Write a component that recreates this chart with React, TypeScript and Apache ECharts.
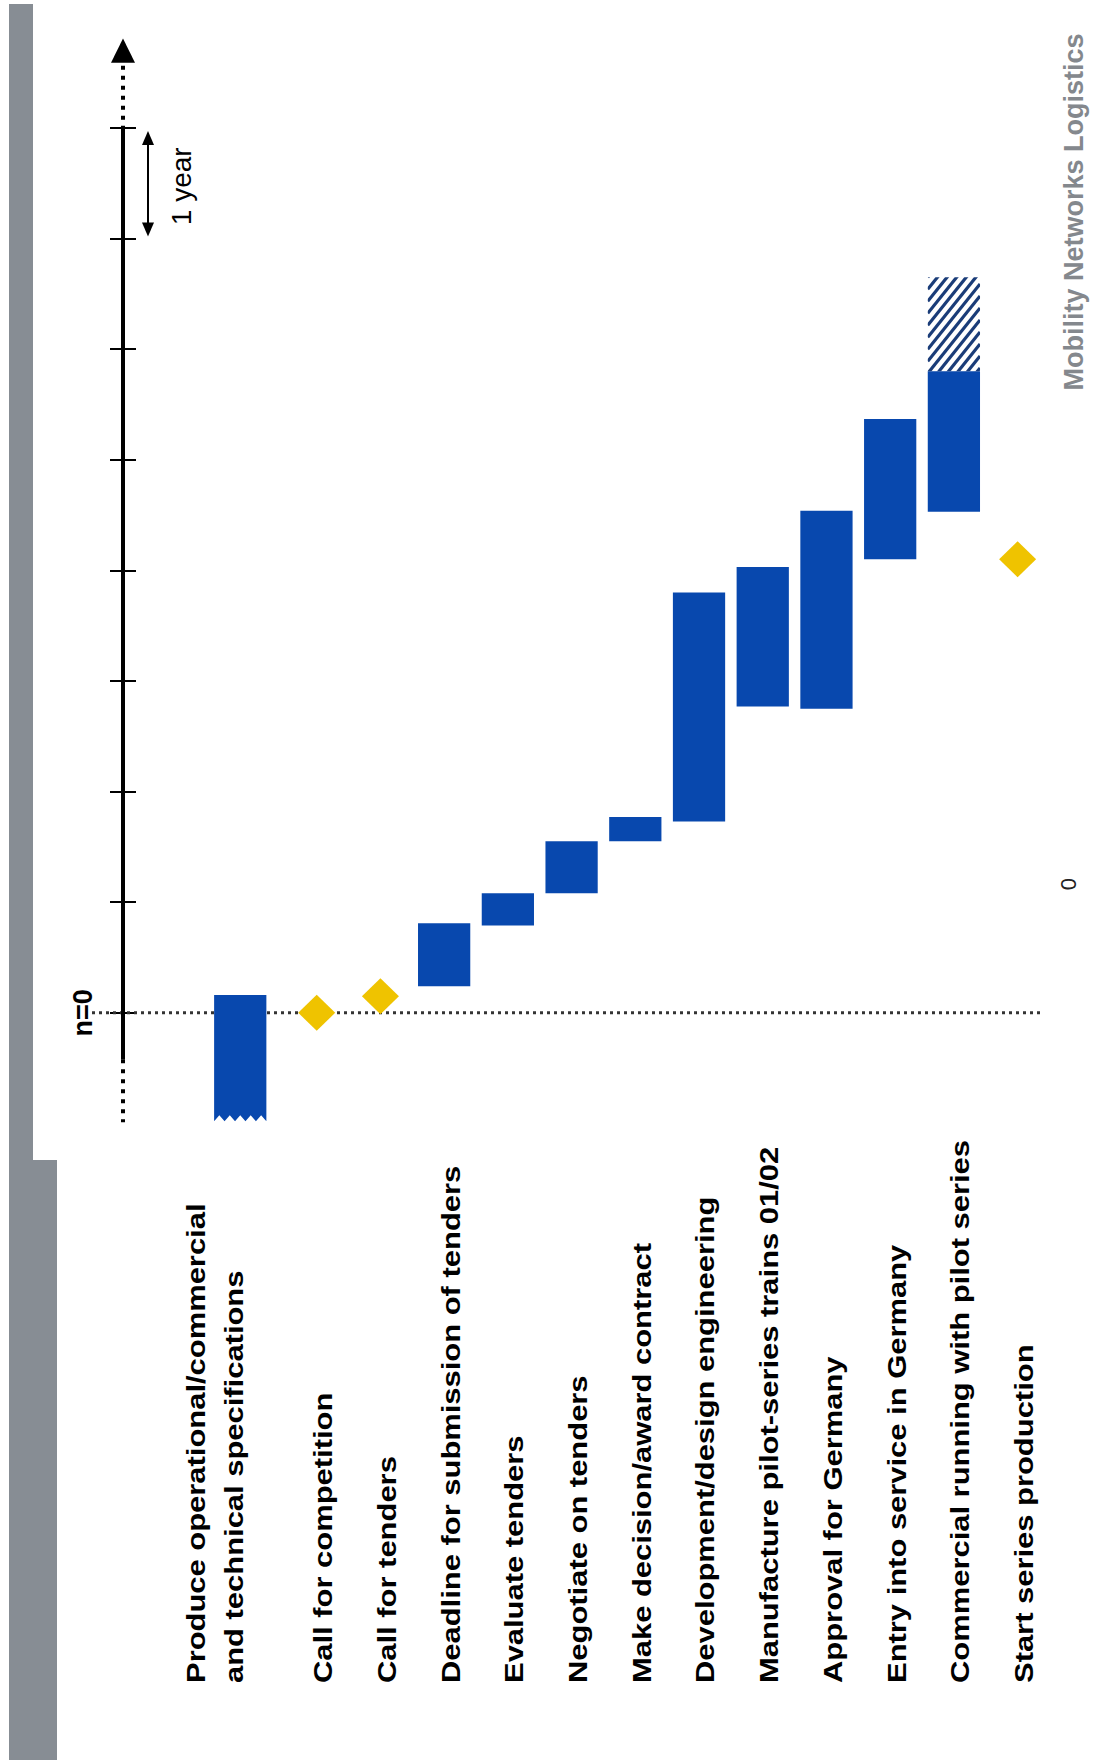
import React, { useEffect, useRef } from 'react';
import * as echarts from 'echarts';

// ---------- data (time in years, n = 0 at the call for competition) ----------
const taskLabels = [
  'Produce operational/commercial\nand technical specifications',
  'Call for competition',
  'Call for tenders',
  'Deadline for submission of tenders',
  'Evaluate tenders',
  'Negotiate on tenders',
  'Make decision/award contract',
  'Development/design engineering',
  'Manufacture pilot-series trains 01/02',
  'Approval for Germany',
  'Entry into service in Germany',
  'Commercial running with pilot series',
  'Start series production',
];
// row slot of each task's mark and of its label (row units)
const rowPos = [-0.2, 1, 2, 3, 4, 5, 6, 7, 8, 9, 10, 11, 12];
const labelPos = [-0.6, 1.1, 2.1, 3.1, 4.1, 5.1, 6.1, 7.1, 8.1, 9.1, 10.1, 11.1, 12.1];
const taskStart = [-0.98, null, null, 0.24, 0.79, 1.08, 1.55, 1.73, 2.77, 2.75, 4.1, 4.53, null];
const taskEnd = [0.16, null, null, 0.81, 1.08, 1.55, 1.77, 3.8, 4.03, 4.54, 5.37, 5.8, null];
const openStart = [true, false, false, false, false, false, false, false, false, false, false, false, false];
const extensionEnd = [null, null, null, null, null, null, null, null, null, null, null, 6.65, null];
const milestoneAt = [null, 0, 0.15, null, null, null, null, null, null, null, null, null, 4.1];
const yearTicks = [0, 1, 2, 3, 4, 5, 6, 7, 8];

// ---------- axis extents ----------
const X_MIN = -2.04;
const X_MAX = 13.34;
const Y_MIN = -6.06;
const Y_MAX = 9.04;

const FONT = '"Liberation Sans", Arial, sans-serif';
const BLUE = '#0848ae';
const GOLD = '#efc300';

export default function App() {
  const ref = useRef<HTMLDivElement>(null);

  useEffect(() => {
    if (!ref.current) return;
    const chart = echarts.init(ref.current, null, { renderer: 'svg' });

    const barData = rowPos
      .map((p, i) => (taskStart[i] == null ? null : [p, taskStart[i], taskEnd[i], i]))
      .filter((d) => d != null);
    const milestoneData = rowPos
      .map((p, i) => (milestoneAt[i] == null ? null : [p, milestoneAt[i]]))
      .filter((d) => d != null);
    const labelData = labelPos.map((p, i) => [p, i]);

    const option: any = {
      animation: false,
      backgroundColor: '#ffffff',
      grid: { left: 123, right: 0, top: 13, bottom: 77 },
      xAxis: {
        type: 'value',
        min: X_MIN,
        max: X_MAX,
        show: false,
        axisLine: { onZero: false },
      },
      yAxis: {
        type: 'value',
        min: Y_MIN,
        max: Y_MAX,
        position: 'left',
        offset: -13,
        axisLine: { show: false, onZero: false },
        axisLabel: { show: false },
        splitLine: { show: false },
        axisTick: {
          show: true,
          inside: false,
          length: 26,
          customValues: yearTicks,
          lineStyle: { color: '#000', width: 2 },
        },
      },
      graphic: [
        { type: 'rect', shape: { x: 9, y: 4, width: 24, height: 1756 }, style: { fill: '#878d94' }, silent: true },
        { type: 'rect', shape: { x: 9, y: 1160, width: 48, height: 600 }, style: { fill: '#878d94' }, silent: true },
        {
          type: 'text',
          x: 1074,
          y: 212,
          rotation: Math.PI / 2,
          silent: true,
          style: {
            text: 'Mobility Networks Logistics',
            fontFamily: FONT,
            fontWeight: 'bold',
            fontSize: 27,
            fill: '#84888d',
            align: 'center',
            verticalAlign: 'middle',
            textAlign: 'center',
            textVerticalAlign: 'middle',
          },
        },
        {
          type: 'text',
          x: 1068,
          y: 884,
          rotation: Math.PI / 2,
          silent: true,
          style: {
            text: '0',
            fontFamily: FONT,
            fontSize: 22,
            fill: '#222',
            align: 'center',
            verticalAlign: 'middle',
            textAlign: 'center',
            textVerticalAlign: 'middle',
          },
        },
      ],
      series: [
        // timeline, n=0 line and scale annotation
        {
          type: 'custom',
          z: 1,
          silent: true,
          data: [[0, 0]],
          renderItem: (params: any, api: any) => {
            const ax = api.coord([X_MIN, 0])[0];
            const yAt = (v: number) => api.coord([X_MIN, v])[1];
            const y0 = yAt(0);
            const solidTop = yAt(8);
            const solidBottom = yAt(-0.42);
            const dotBottom = yAt(-0.99);
            const dotTop = yAt(8.59);
            const tip = yAt(8.81);
            const xEnd = api.coord([12.4, 0])[0];
            const y7 = yAt(7);
            const ya = ax + 25;
            return {
              type: 'group',
              children: [
                {
                  type: 'line',
                  shape: { x1: ax - 31, y1: y0, x2: xEnd, y2: y0 },
                  style: { stroke: '#333', lineWidth: 3, lineDash: [3, 4] },
                },
                {
                  type: 'line',
                  shape: { x1: ax, y1: solidTop, x2: ax, y2: solidBottom },
                  style: { stroke: '#000', lineWidth: 4 },
                },
                {
                  type: 'line',
                  shape: { x1: ax, y1: dotTop + 3, x2: ax, y2: solidTop },
                  style: { stroke: '#000', lineWidth: 4, lineDash: [4, 6] },
                },
                {
                  type: 'line',
                  shape: { x1: ax, y1: solidBottom, x2: ax, y2: dotBottom },
                  style: { stroke: '#000', lineWidth: 4, lineDash: [4, 6] },
                },
                {
                  type: 'polygon',
                  shape: { points: [[ax, tip], [ax - 12, dotTop], [ax + 12, dotTop]] },
                  style: { fill: '#000' },
                },
                {
                  type: 'line',
                  shape: { x1: ya, y1: solidTop + 12, x2: ya, y2: y7 - 12 },
                  style: { stroke: '#000', lineWidth: 2 },
                },
                {
                  type: 'polygon',
                  shape: { points: [[ya, solidTop + 3], [ya - 6, solidTop + 17], [ya + 6, solidTop + 17]] },
                  style: { fill: '#000' },
                },
                {
                  type: 'polygon',
                  shape: { points: [[ya, y7 - 2], [ya - 6, y7 - 16], [ya + 6, y7 - 16]] },
                  style: { fill: '#000' },
                },
                {
                  type: 'text',
                  x: ax + 58,
                  y: (solidTop + y7) / 2 + 3,
                  rotation: Math.PI / 2,
                  style: {
                    text: '1 year',
                    fontFamily: FONT,
                    fontSize: 28,
                    fill: '#000',
                    align: 'center',
                    verticalAlign: 'middle',
                    textAlign: 'center',
                    textVerticalAlign: 'middle',
                  },
                },
                {
                  type: 'text',
                  x: ax - 40,
                  y: y0,
                  rotation: Math.PI / 2,
                  style: {
                    text: 'n=0',
                    fontFamily: FONT,
                    fontWeight: 'bold',
                    fontSize: 27,
                    fill: '#000',
                    align: 'center',
                    verticalAlign: 'middle',
                    textAlign: 'center',
                    textVerticalAlign: 'middle',
                  },
                },
              ],
            };
          },
        },
        // task bars
        {
          type: 'custom',
          z: 2,
          silent: true,
          data: barData,
          renderItem: (params: any, api: any) => {
            const pos = api.value(0);
            const s = api.value(1);
            const e = api.value(2);
            const i = api.value(3);
            const top = api.coord([pos, e]);
            const bot = api.coord([pos, s]);
            const w = api.size([0.82, 0])[0];
            const x0 = top[0] - w / 2;
            const x1 = top[0] + w / 2;
            const children: any[] = [];
            if (openStart[i]) {
              const teeth = 5;
              const pts: number[][] = [[x0, top[1]], [x1, top[1]], [x1, bot[1]]];
              for (let j = 1; j <= teeth * 2; j++) {
                pts.push([x1 - (j * w) / (teeth * 2), j % 2 === 1 ? bot[1] - 6 : bot[1]]);
              }
              children.push({ type: 'polygon', shape: { points: pts }, style: { fill: BLUE } });
            } else {
              children.push({
                type: 'rect',
                shape: { x: x0, y: top[1], width: w, height: bot[1] - top[1] },
                style: { fill: BLUE },
              });
            }
            const ext = extensionEnd[i];
            if (ext != null) {
              const hTop = api.coord([pos, ext])[1];
              const hBot = top[1];
              const rise = w * 1.25;
              const lines: any[] = [];
              for (let yy = hTop; yy < hBot + rise + 12; yy += 12) {
                lines.push({
                  type: 'line',
                  shape: { x1: x0, y1: yy, x2: x1, y2: yy - rise },
                  style: { stroke: '#1a3c78', lineWidth: 3.2 },
                });
              }
              children.push({
                type: 'group',
                children: lines,
                clipPath: { type: 'rect', shape: { x: x0, y: hTop, width: w, height: hBot - hTop } },
              });
            }
            return { type: 'group', children };
          },
        },
        // milestones
        {
          type: 'scatter',
          z: 3,
          silent: true,
          symbol: 'diamond',
          symbolSize: [37, 36],
          itemStyle: { color: GOLD, opacity: 1 },
          data: milestoneData,
        },
        // task labels (rotated, reading upwards from the bottom of the grid)
        {
          type: 'custom',
          z: 3,
          silent: true,
          data: labelData,
          renderItem: (params: any, api: any) => {
            const i = api.value(1);
            const pt = api.coord([api.value(0), Y_MIN]);
            return {
              type: 'text',
              x: pt[0],
              y: pt[1],
              rotation: Math.PI / 2,
              scaleX: 1.19,
              style: {
                text: taskLabels[i],
                fontFamily: FONT,
                fontWeight: 'bold',
                fontSize: 26,
                lineHeight: 38,
                fill: '#000',
                align: 'left',
                verticalAlign: 'middle',
                textAlign: 'left',
                textVerticalAlign: 'middle',
              },
            };
          },
        },
      ],
    };

    chart.setOption(option);
    return () => chart.dispose();
  }, []);

  return (
    <div
      ref={ref}
      style={{ position: 'absolute', left: 0, top: 0, width: 1103, height: 1760, background: '#fff' }}
    />
  );
}
